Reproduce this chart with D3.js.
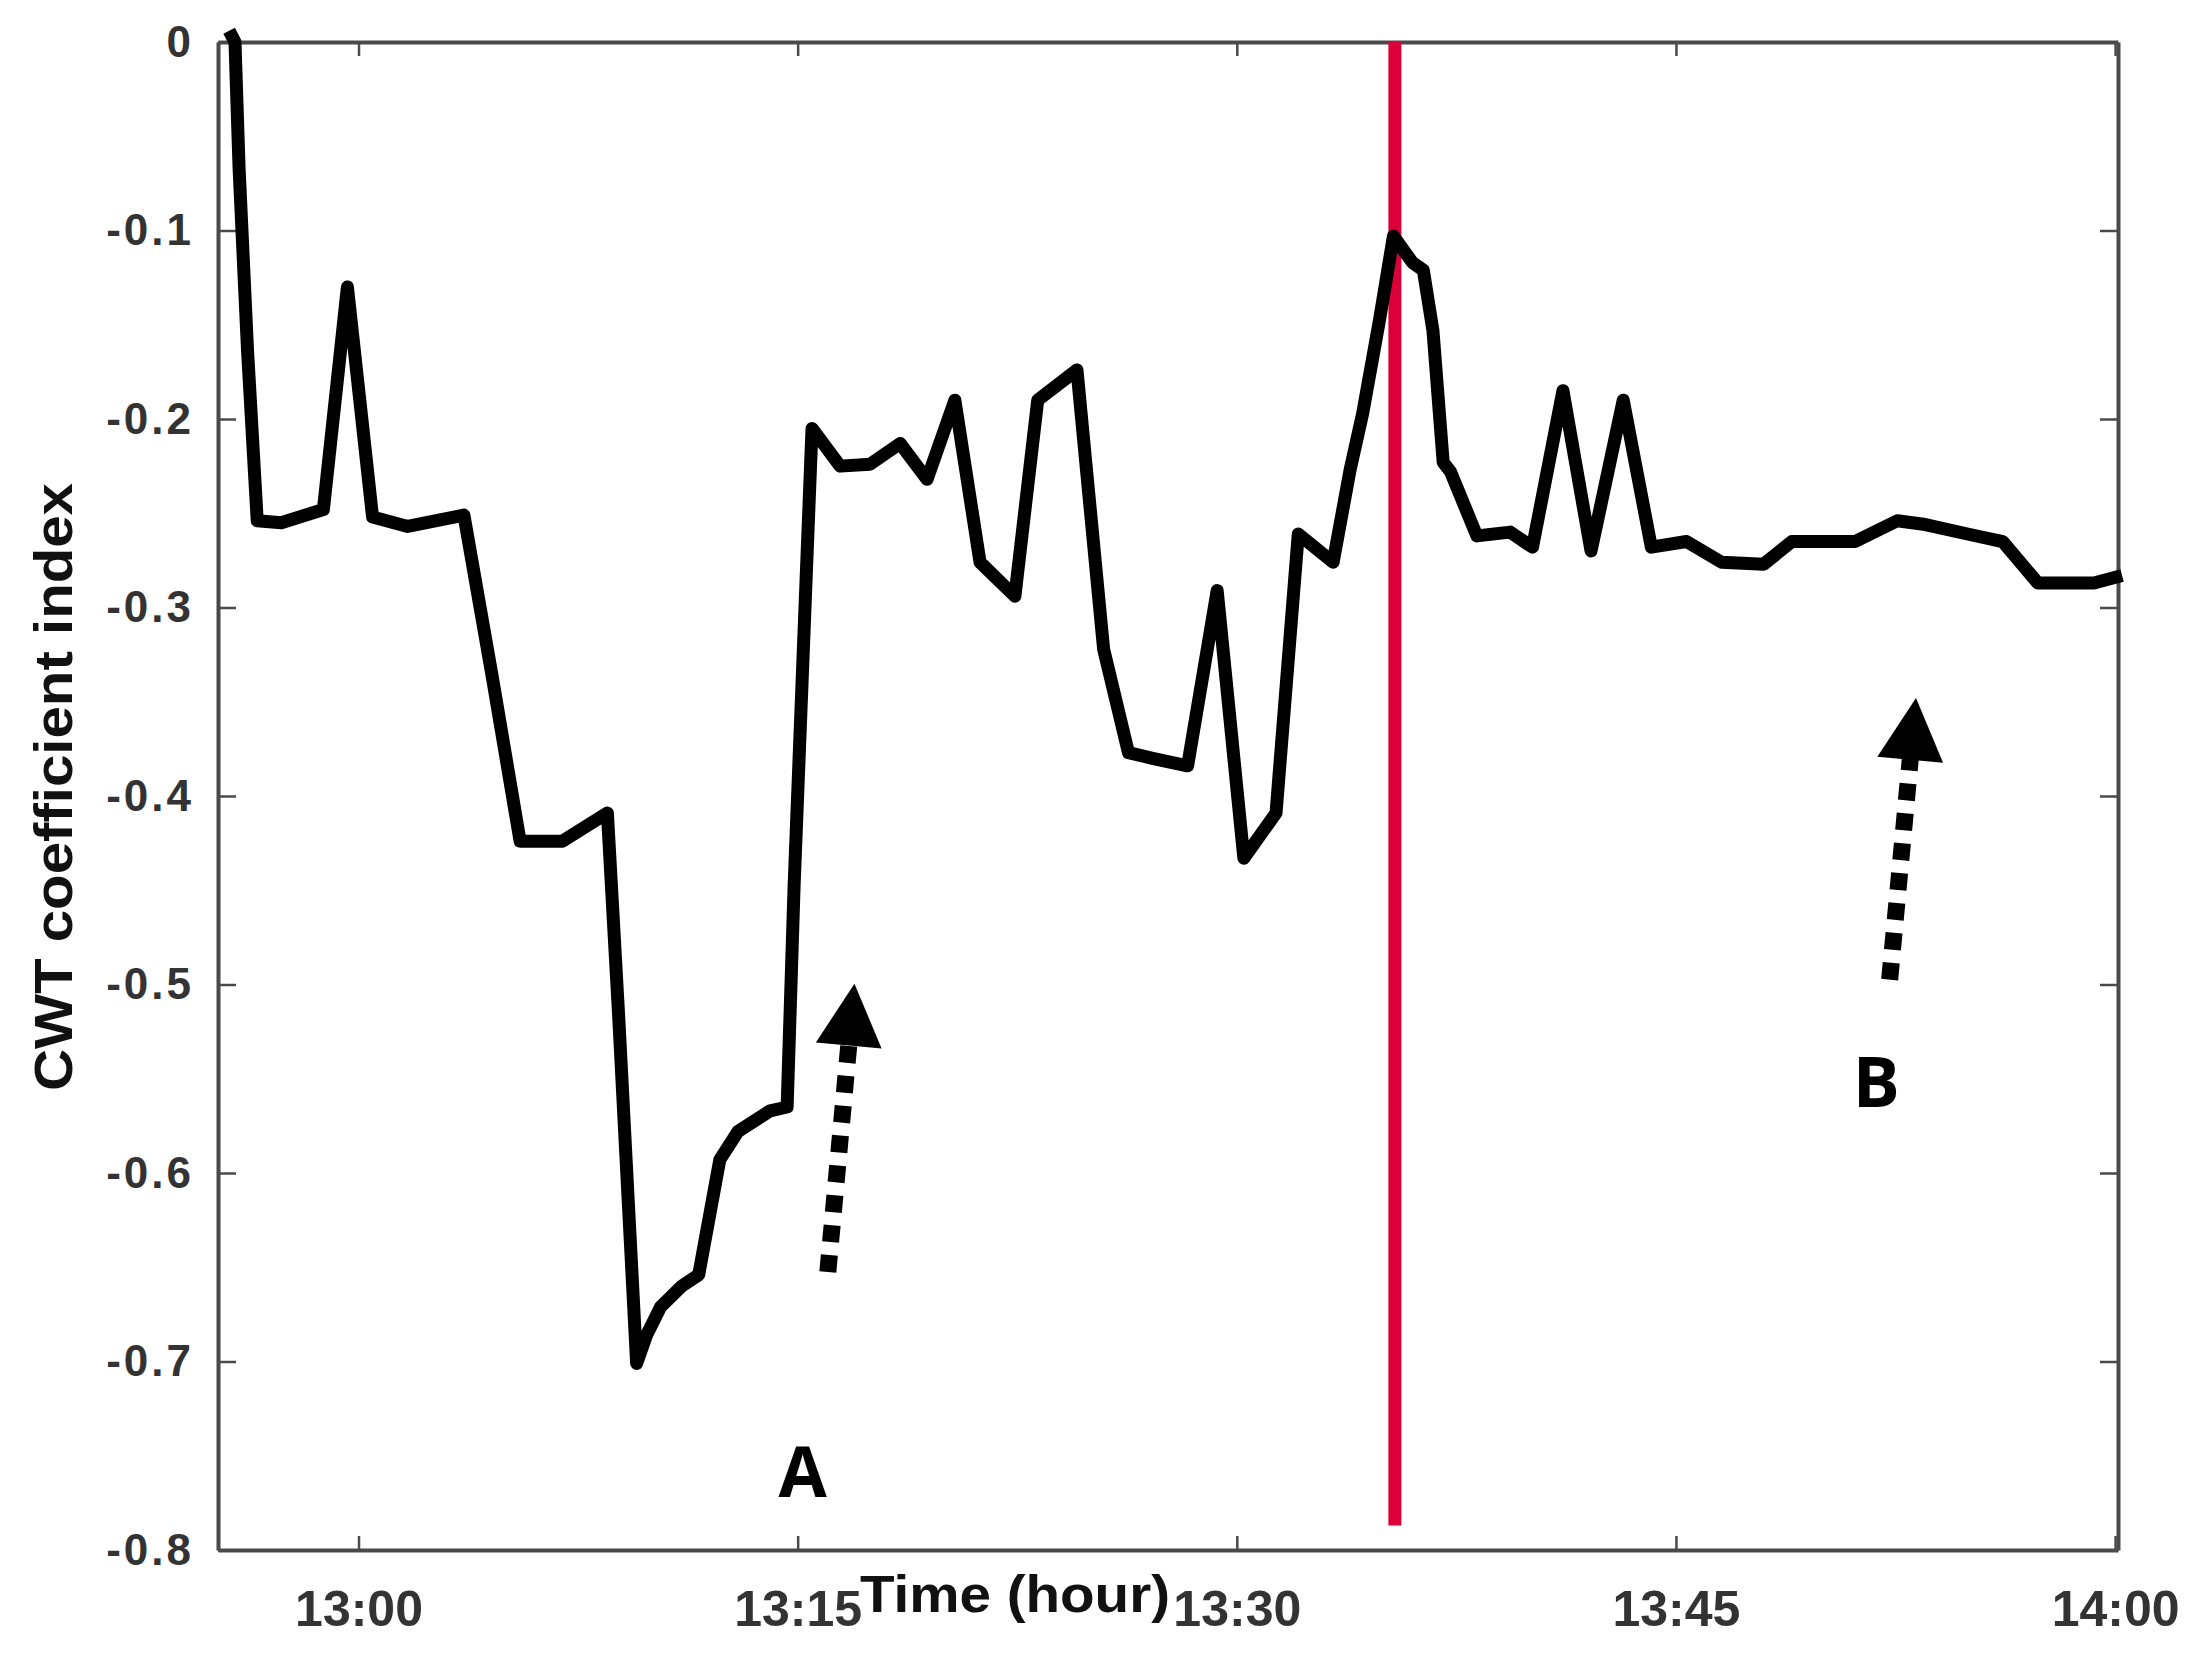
<!DOCTYPE html>
<html><head><meta charset="utf-8">
<script src="https://cdn.jsdelivr.net/npm/d3@7"></script>
<style>body{margin:0;background:#fff}svg{display:block}</style>
</head><body>
<svg id="chart" width="2204" height="1659"></svg>
<script>
// minutes after 13:00
const minutes = [-4.42,-4.22,-4.08,-3.79,-3.46,-2.64,-1.2,-0.38,0.48,1.68,3.6,4.56,5.52,6.96,8.5,8.88,9.5,9.84,10.32,11.04,11.62,12.34,12.96,14.06,14.64,14.88,15.49,16.45,17.47,18.5,19.42,20.37,21.23,22.42,23.2,24.54,25.45,26.3,27.12,28.32,29.33,30.24,31.34,32.1,33.29,33.87,34.3,34.88,35.35,36.0,36.37,36.7,37.05,37.3,38.2,39.34,40.1,41.14,42.1,43.2,44.16,45.36,46.56,48.0,48.96,51.12,52.56,53.52,54.96,56.16,57.36,59.28,60.24];
const cwt = [0.006,0.0,-0.067,-0.164,-0.254,-0.255,-0.248,-0.13,-0.252,-0.257,-0.251,-0.336,-0.424,-0.424,-0.409,-0.515,-0.701,-0.686,-0.671,-0.66,-0.654,-0.593,-0.578,-0.567,-0.565,-0.447,-0.205,-0.225,-0.224,-0.213,-0.232,-0.19,-0.276,-0.294,-0.19,-0.174,-0.322,-0.377,-0.38,-0.384,-0.291,-0.433,-0.409,-0.261,-0.276,-0.227,-0.197,-0.147,-0.103,-0.117,-0.121,-0.153,-0.223,-0.228,-0.262,-0.26,-0.268,-0.185,-0.27,-0.19,-0.268,-0.265,-0.276,-0.277,-0.265,-0.265,-0.254,-0.256,-0.261,-0.265,-0.287,-0.287,-0.283];
const xTickMinutes = [0,15,30,45,60];
const yTickValues = [0,-0.1,-0.2,-0.3,-0.4,-0.5,-0.6,-0.7,-0.8];
const xDomainMinutes = [-4.8, 60.1];
const yDomain = [-0.8, 0];
const eventMinute = 35.4;
const eventRange = [0, -0.787];
const arrowNames = ["A","B"];
const arrowFromMin = [16.03, 52.3];
const arrowFromVal = [-0.6525, -0.4974];
const arrowToMin = [16.94, 53.2];
const arrowToVal = [-0.4996, -0.348];
const labelMin = [15.17, 51.84];
const labelVal = [-0.772, -0.565];
const xTitle = "Time (hour)";
const yTitle = "CWT coefficient index";

const W = 2204, H = 1659;
const m = {l:218, r:86, t:42, b:109};
const base = new Date(2000,0,1,13,0,0);
const toDate = mm => new Date(base.getTime() + mm*60000);

const svg = d3.select("#chart");
const x = d3.scaleTime().domain(xDomainMinutes.map(toDate)).range([m.l, W-m.r]);
const y = d3.scaleLinear().domain(yDomain).range([H-m.b, m.t]);
const axisColor = "#4a4a4a";

// axes (box with inward ticks)
const gx = svg.append("g").attr("transform",`translate(0,${H-m.b})`)
  .call(d3.axisBottom(x).tickValues(xTickMinutes.map(toDate)).tickFormat(d3.timeFormat("%H:%M")).tickSizeInner(-14).tickSizeOuter(0));
const gxt = svg.append("g").attr("transform",`translate(0,${m.t})`)
  .call(d3.axisTop(x).tickValues(xTickMinutes.map(toDate)).tickFormat("").tickSizeInner(-14).tickSizeOuter(0));
const gy = svg.append("g").attr("transform",`translate(${m.l},0)`)
  .call(d3.axisLeft(y).tickValues(yTickValues).tickFormat(d => d===0 ? "0" : d3.format(".1f")(d).replace("−","-")).tickSizeInner(-18).tickSizeOuter(0));
const gyr = svg.append("g").attr("transform",`translate(${W-m.r},0)`)
  .call(d3.axisRight(y).tickValues(yTickValues).tickFormat("").tickSizeInner(-18).tickSizeOuter(0));
[gx,gxt,gy,gyr].forEach(g => {
  g.select(".domain").attr("stroke",axisColor).attr("stroke-width",4);
  g.selectAll(".tick line").attr("stroke",axisColor).attr("stroke-width",2.5);
});
gx.selectAll(".tick text").attr("font-family","Liberation Sans, Arial, sans-serif").attr("font-weight","bold")
  .attr("font-size",50).attr("fill","#333").attr("y",40).attr("dy","0.71em");
gy.selectAll(".tick text").attr("font-family","Liberation Sans, Arial, sans-serif").attr("font-weight","bold")
  .attr("font-size",44).attr("fill","#333").attr("x",-24).attr("letter-spacing","3px");

// titles
svg.append("text").attr("x",1015).attr("y",1612).attr("text-anchor","middle")
  .attr("font-family","Liberation Sans, Arial, sans-serif").attr("font-weight","bold").attr("font-size",52)
  .attr("fill","#111").attr("textLength",310).attr("lengthAdjust","spacingAndGlyphs").text(xTitle);
svg.append("text").attr("transform",`translate(72,${787}) rotate(-90)`).attr("text-anchor","middle")
  .attr("font-family","Liberation Sans, Arial, sans-serif").attr("font-weight","bold").attr("font-size",53)
  .attr("fill","#111").attr("textLength",608).attr("lengthAdjust","spacingAndGlyphs").text(yTitle);

// event line
svg.append("line").attr("x1",x(toDate(eventMinute))).attr("x2",x(toDate(eventMinute)))
  .attr("y1",y(eventRange[0])).attr("y2",y(eventRange[1]))
  .attr("stroke","#DC0039").attr("stroke-width",13);

// series
const pts = minutes.map((t,i)=>[toDate(t), cwt[i]]);
svg.append("path").datum(pts)
  .attr("fill","none").attr("stroke","#000").attr("stroke-width",13).attr("stroke-linejoin","round")
  .attr("d", d3.line().x(d=>x(d[0])).y(d=>y(d[1])));

// arrows
arrowNames.forEach((nm,i)=>{
  const x0 = x(toDate(arrowFromMin[i])), y0 = y(arrowFromVal[i]);
  const x1 = x(toDate(arrowToMin[i])), y1 = y(arrowToVal[i]);
  const dx = x1-x0, dy = y1-y0, L = Math.hypot(dx,dy);
  const ux = dx/L, uy = dy/L, px = -uy, py = ux;
  const headLen = 62, headHalf = 33;
  const bx = x1 - ux*headLen, by = y1 - uy*headLen;
  svg.append("line").attr("x1",x0).attr("y1",y0).attr("x2",bx+ux*2).attr("y2",by+uy*2)
    .attr("stroke","#000").attr("stroke-width",17).attr("stroke-dasharray","17 13");
  svg.append("path").attr("fill","#000")
    .attr("d",`M${x1},${y1}L${bx+px*headHalf},${by+py*headHalf}L${bx-px*headHalf},${by-py*headHalf}Z`);
  svg.append("text").attr("x",x(toDate(labelMin[i]))).attr("y",y(labelVal[i])).attr("text-anchor","middle")
    .attr("font-family","Open Sans, sans-serif").attr("font-weight","bold").attr("font-size",70).attr("fill","#000").text(nm);
});
</script>
</body></html>
